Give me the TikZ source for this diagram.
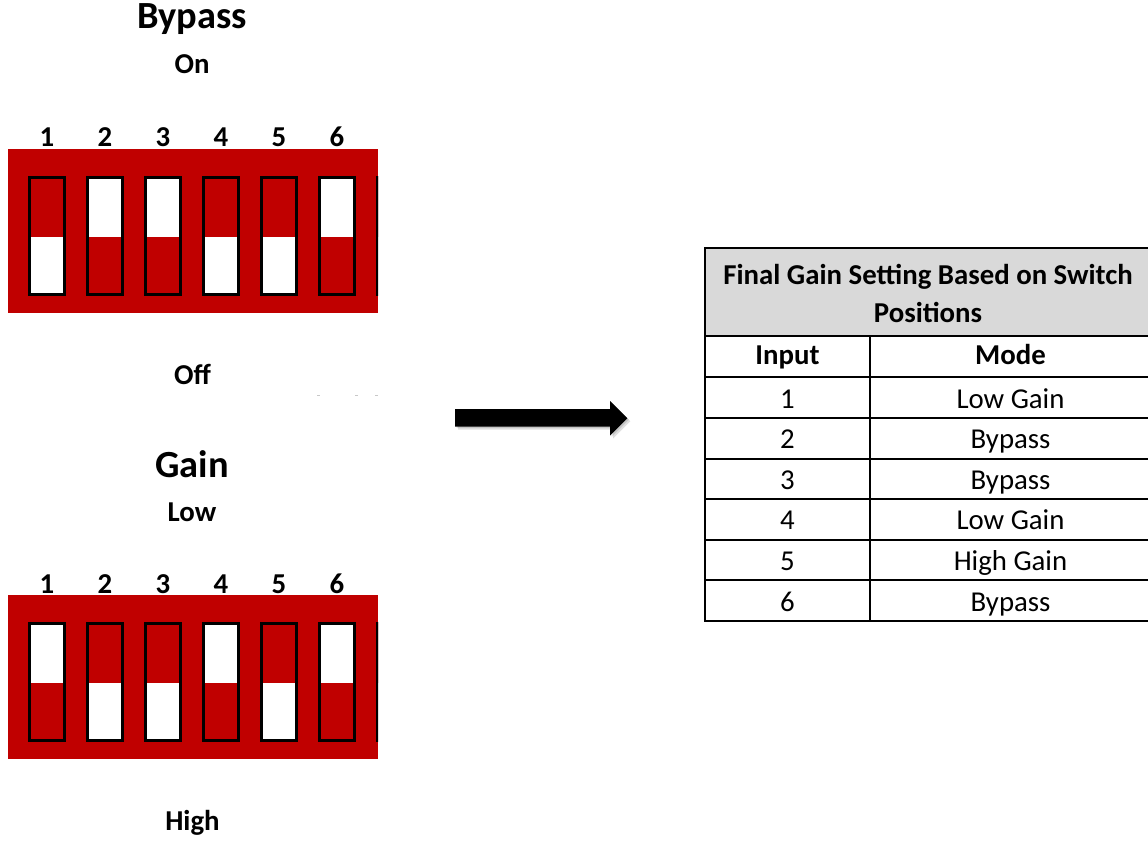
\documentclass[tikz,border=0pt]{standalone}
\usepackage{fontspec}
\setmainfont{Carlito}
\definecolor{dipred}{HTML}{C00000}
\definecolor{hdrgray}{HTML}{D9D9D9}
\definecolor{faint}{HTML}{C8C8C8}
\tikzset{
  lbl/.style={inner sep=0pt, anchor=base, font=\fontsize{28.8}{34}\selectfont\bfseries},
  ttl/.style={inner sep=0pt, anchor=base, font=\fontsize{38.4}{46}\selectfont\bfseries},
  cell/.style={inner sep=0pt, anchor=base, font=\fontsize{28.8}{34}\selectfont},
  cellb/.style={inner sep=0pt, anchor=base, font=\fontsize{28.8}{34}\selectfont\bfseries},
  swbox/.style={draw=black, line width=3pt},
  tline/.style={draw=black, line width=2pt},
  bigarrow/.style={fill=black},
  arrowshadow/.style={fill=black, opacity=0.12},
}
\begin{document}
\begin{tikzpicture}[x=1pt, y=-1pt]
\useasboundingbox (0,0) rectangle (1148,841);
\clip (0,0) rectangle (1148,841);
\fill[white] (0,0) rectangle (1148,841);

% ---------- top DIP switch (Bypass) ----------
\node[ttl] (bypass) at (192,28.5) {Bypass};
\node[lbl] (on) at (192,73.3) {On};
\fill[dipred] (8,149) rectangle (378,313);
\begin{scope}
  \clip (8,149) rectangle (378,313);
  \foreach \ct/\cb [count=\i from 0] in {dipred/white, white/dipred, white/dipred, dipred/white, dipred/white, white/dipred, dipred/white} {
    \pgfmathsetmacro\xl{27.7+58*\i}
    \fill[\ct] (\xl,175.7) rectangle ({\xl+38.5},237);
    \fill[\cb] (\xl,237) rectangle ({\xl+38.5},296);
    \draw[swbox] ({\xl+1.5},177.2) rectangle ({\xl+37},294.5);
  }
\end{scope}
\foreach \n [count=\i from 0] in {1,2,3,4,5,6} {
  \node[lbl] (ta\n) at ({47+58*\i},146.7) {\n};
}
\node[lbl] (off) at (192.5,384) {Off};
\fill[faint] (317,394.8) rectangle (320,396);
\fill[faint] (355,394.8) rectangle (358,396);
\fill[faint] (375,394.8) rectangle (378,396);

% ---------- bottom DIP switch (Gain) ----------
\node[ttl] (gain) at (192,477.3) {Gain};
\node[lbl] (low) at (192,521.7) {Low};
\fill[dipred] (8,595) rectangle (378,759);
\begin{scope}
  \clip (8,595) rectangle (378,759);
  \foreach \ct/\cb [count=\i from 0] in {white/dipred, dipred/white, dipred/white, white/dipred, dipred/white, white/dipred, dipred/white} {
    \pgfmathsetmacro\xl{27.7+58*\i}
    \fill[\ct] (\xl,621.7) rectangle ({\xl+38.5},683);
    \fill[\cb] (\xl,683) rectangle ({\xl+38.5},742.3);
    \draw[swbox] ({\xl+1.5},623.2) rectangle ({\xl+37},740.8);
  }
\end{scope}
\foreach \n [count=\i from 0] in {1,2,3,4,5,6} {
  \node[lbl] (ba\n) at ({47+58*\i},593.3) {\n};
}
\node[lbl] (high) at (192.5,830) {High};

% ---------- block arrow ----------
\foreach \d in {1.5,3} {
  \fill[arrowshadow] ({455+\d},{409+\d}) -- ({610+\d},{409+\d}) -- ({610+\d},{401+\d}) -- ({627.3+\d},{418.3+\d}) -- ({610+\d},{435.7+\d}) -- ({610+\d},{426.7+\d}) -- ({455+\d},{426.7+\d}) -- cycle;
}
\fill[bigarrow] (455,409) -- (610,409) -- (610,401) -- (627.3,418.3) -- (610,435.7) -- (610,426.7) -- (455,426.7) -- cycle;

% ---------- table ----------
\fill[hdrgray] (705,248.3) rectangle (1151,336);
\draw[tline] (705,248.3) rectangle (1151,621);
\draw[tline] (705,336) -- (1151,336);
\foreach \k in {0,...,6} {
  \draw[tline] (705,{377.3+40.6*\k}) -- (1151,{377.3+40.6*\k});
}
\draw[tline] (870,336) -- (870,621);

\node[cellb] (hdr1) at (928,284) {Final Gain Setting Based on Switch};
\node[cellb] (hdr2) at (928,322.5) {Positions};
\node[cellb] (colin) at (787.5,364.5) {Input};
\node[cellb] (colmode) at (1010.5,364.5) {Mode};
\foreach \n/\m [count=\i from 0] in {1/Low Gain, 2/Bypass, 3/Bypass, 4/Low Gain, 5/High Gain, 6/Bypass} {
  \node[cell] (in\n) at (787.5,{408+40.6*\i}) {\n};
  \node[cell] (mode\n) at (1010.5,{408+40.6*\i}) {\m};
}
\end{tikzpicture}
\end{document}
